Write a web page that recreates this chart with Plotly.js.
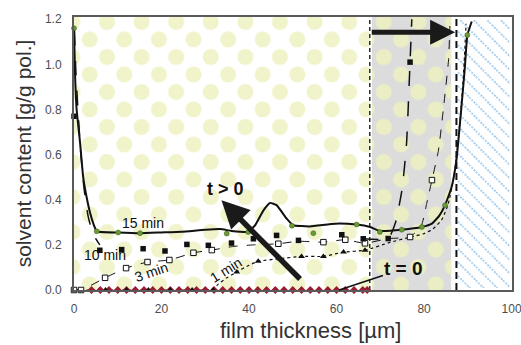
<!DOCTYPE html>
<html><head><meta charset="utf-8">
<script src="https://cdn.plot.ly/plotly-3.0.1.min.js"></script>
<style>html,body{margin:0;padding:0;background:#fff;}#chart{width:521px;height:345px;}</style>
</head><body><div id="chart"></div>
<script>
// ---- data ----
const xTickVals = [0, 20, 40, 60, 80, 100];
const yTickVals = [0.0, 0.2, 0.4, 0.6, 0.8, 1.0, 1.2];

// t = 0 : initial film, no solvent
const t0X = [4,6,8,10,12,14,16,18,20,22,24,26,28,30,32,34,36,38,40,42,44,46,48,50,52,54,56,58,60,62,64,66,67];
const t0Y = [0,0,0,0,0,0,0,0,0,0,0,0,0,0,0,0,0,0,0,0,0,0,0,0,0,0,0,0,0,0,0,0,0];

// 1 min
const oneMinLineX = [0,27,31.8,33,35,37.2,40,42.1,47.1,52,57,61.6,66.5,72,77,80,82,84,85.5,86.8,88,89,89.6];
const oneMinLineY = [0,0,0.003,0.027,0.055,0.08,0.11,0.127,0.139,0.149,0.149,0.168,0.176,0.21,0.235,0.25,0.27,0.31,0.38,0.5,0.7,0.95,1.18];
const oneMinPtsX = [7.2,12,17,22,27,31.8,37.2,42.1,47.1,52,57,61.6,66.5];
const oneMinPtsY = [0,0,0,0,0,0,0.08,0.127,0.139,0.149,0.149,0.168,0.176];

// 3 min
const threeMinLineX = [0,1.6,3.3,7.1,11.9,16.8,21.8,27.3,31.5,36.4,41,46.7,51.3,57,62,66.5,71.8,76.8,79.4,80.6,81.8,83.3,84.4,85.6,85.9];
const threeMinLineY = [0,0.003,0.015,0.054,0.097,0.124,0.133,0.165,0.177,0.193,0.2,0.205,0.216,0.212,0.223,0.207,0.228,0.235,0.287,0.383,0.487,0.62,0.8,1.02,1.17];
const threeMinPtsX = [0,1.6,7.1,11.9,16.8,21.8,27.3,31.5,46.7,57,62,66.5,76.8,81.8];
const threeMinPtsY = [0,0,0.054,0.097,0.124,0.133,0.165,0.177,0.205,0.212,0.223,0.207,0.235,0.487];

// 10 min
const tenMinLineX = [0.1,0.4,0.9,1.5,2.3,3.2,4.3,5.9,null,66.1,71.8,73.5,75,76,76.8,77.2];
const tenMinLineY = [1.15,0.98,0.8,0.62,0.45,0.33,0.25,0.2,null,0.227,0.228,0.3,0.45,0.65,1.01,1.2];
const tenMinPtsX = [0,5.9,10.9,15.8,20.8,25.8,30.7,36,41,46.3,51.3,61.2,66.1,71.8,76.8];
const tenMinPtsY = [0.77,0.176,0.179,0.183,0.173,0.202,0.198,0.208,0.227,0.242,0.22,0.245,0.227,0.228,1.01];

// 15 min
const fifteenLineX = [0,0.25,0.6,1.4,2.1,2.9,3.7,4.5,5.2,10.1,15.1,20,24.6,30,33.4,36,39.8,41.5,43.3,44.8,46.3,48.6,50.1,53.9,59.7,64.6,67.7,69.9,74.9,79.5,81.8,83.5,84.8,86.3,87.4,88.4,89.3,89.9,90.9];
const fifteenLineY = [1.16,0.95,0.8,0.65,0.5,0.41,0.34,0.29,0.26,0.255,0.252,0.255,0.258,0.267,0.27,0.262,0.258,0.29,0.353,0.386,0.376,0.316,0.287,0.282,0.294,0.29,0.279,0.262,0.267,0.279,0.294,0.33,0.376,0.457,0.576,0.78,0.98,1.13,1.19];
const fifteenPtsX = [0,5.2,10.1,15.1,34.9,39.8,49.8,54.7,64.6,69.9,74.9,79.5,84.8,89.9];
const fifteenPtsY = [1.16,0.26,0.255,0.252,0.25,0.257,0.285,0.252,0.29,0.257,0.267,0.279,0.376,1.13];

// film boundaries: initial (t = 0) and final
const boundaryX = [67.6, 87.4];
const grayZone = [68.1, 86.2];
const hatchZone = [87.6, 99.5];

// ---- layout geometry ----
const W = 521, H = 345, M = {l: 74, r: 9, t: 17, b: 55};
const XR = [0, 100.1], YR = [0, 1.21];
const pw = W - M.l - M.r, ph = H - M.t - M.b;
function px(x) { return (x - XR[0]) / (XR[1] - XR[0]) * pw; }

// background decoration (dotted film, grey zone, hatched solvent)
const dotW = '#f1f3ca', dotG = '#ebedc4';
const svg =
`<svg xmlns='http://www.w3.org/2000/svg' width='${pw}' height='${ph}' viewBox='0 0 ${pw} ${ph}'>
<defs>
<pattern id='dw' patternUnits='userSpaceOnUse' x='-10.25' y='-3.75' width='34.6' height='35'>
<circle cx='8.65' cy='8.75' r='8' fill='${dotW}'/><circle cx='25.95' cy='26.25' r='8' fill='${dotW}'/></pattern>
<pattern id='dg' patternUnits='userSpaceOnUse' x='-10.25' y='-3.75' width='34.6' height='35'>
<circle cx='8.65' cy='8.75' r='8' fill='${dotG}'/><circle cx='25.95' cy='26.25' r='8' fill='${dotG}'/></pattern>
<pattern id='hh' patternUnits='userSpaceOnUse' width='9.6' height='9.6' patternTransform='rotate(-45)'>
<line x1='2' y1='0' x2='2' y2='9.6' stroke='#6aaee6' stroke-width='1.2' stroke-dasharray='1.8,1.6'/></pattern>
</defs>
<rect x='0' y='0' width='${px(boundaryX[0]).toFixed(1)}' height='${ph}' fill='url(#dw)'/>
<rect x='${px(grayZone[0]).toFixed(1)}' y='0' width='${(px(grayZone[1]) - px(grayZone[0])).toFixed(1)}' height='${ph}' fill='#dcdcdc'/>
<rect x='${px(grayZone[0]).toFixed(1)}' y='0' width='${(px(grayZone[1]) - px(grayZone[0])).toFixed(1)}' height='${ph}' fill='url(#dg)'/>
<rect x='${px(hatchZone[0]).toFixed(1)}' y='3' width='${(px(hatchZone[1]) - px(hatchZone[0])).toFixed(1)}' height='${ph - 5}' fill='url(#hh)'/>
</svg>`;
const bgSrc = 'data:image/svg+xml;charset=utf-8,' + encodeURIComponent(svg);

const FONT = 'Liberation Sans, Arial, sans-serif';
const ink = '#111111';

const traces = [
  {x: oneMinLineX, y: oneMinLineY, mode: 'lines', name: '1 min',
   line: {color: ink, width: 1.2, dash: 'dot', shape: 'spline', smoothing: 0.5}},
  {x: threeMinLineX, y: threeMinLineY, mode: 'lines', name: '3 min',
   line: {color: ink, width: 1, dash: 'dash', shape: 'spline', smoothing: 0.5}},
  {x: tenMinLineX, y: tenMinLineY, mode: 'lines', name: '10 min',
   line: {color: ink, width: 1.5, dash: 'longdash', shape: 'spline', smoothing: 0.5}},
  {x: fifteenLineX, y: fifteenLineY, mode: 'lines', name: '15 min',
   line: {color: ink, width: 2, shape: 'spline', smoothing: 0.4}},
  {x: t0X, y: t0Y, mode: 'markers', name: 't = 0', cliponaxis: false,
   marker: {symbol: 'diamond', size: 6, color: '#9b1c31'}},
  {x: oneMinPtsX, y: oneMinPtsY, mode: 'markers', name: '1 min data', cliponaxis: false,
   marker: {symbol: 'triangle-up', size: 6, color: ink}},
  {x: threeMinPtsX, y: threeMinPtsY, mode: 'markers', name: '3 min data', cliponaxis: false,
   marker: {symbol: 'square', size: 5.5, color: '#ffffff', line: {color: ink, width: 1}}},
  {x: tenMinPtsX, y: tenMinPtsY, mode: 'markers', name: '10 min data', cliponaxis: false,
   marker: {symbol: 'square', size: 5.5, color: ink}},
  {x: fifteenPtsX, y: fifteenPtsY, mode: 'markers', name: '15 min data', cliponaxis: false,
   marker: {symbol: 'circle', size: 5, color: '#6a9a35', line: {color: '#3d5e1a', width: 0.5}}}
];

const lbl = (text, x, y, size, angle, bold) => ({
  text: bold ? '<b>' + text + '</b>' : text, x: x, y: y, xref: 'x', yref: 'y',
  showarrow: false, textangle: angle || 0,
  font: {family: FONT, size: size, color: ink}
});

const layout = {
  width: W, height: H, margin: M,
  paper_bgcolor: '#ffffff', plot_bgcolor: '#ffffff',
  showlegend: false,
  xaxis: {
    range: XR, tickvals: xTickVals, ticks: '', ticklabelstandoff: 7, ticklabeloverflow: 'allow',
    showgrid: false, zeroline: false, showline: true, mirror: true,
    linecolor: '#5a5a5a', linewidth: 2,
    tickfont: {family: FONT, size: 12, color: '#4d4d4d'}
  },
  yaxis: {
    range: YR, tickvals: yTickVals, tickformat: '.1f', ticks: '', ticklabelstandoff: 8,
    showgrid: false, zeroline: false, showline: true, mirror: true,
    linecolor: '#5a5a5a', linewidth: 2,
    tickfont: {family: FONT, size: 12, color: '#4d4d4d'},
    title: {text: 'solvent content [g/g pol.]', standoff: 8,
            font: {family: FONT, size: 21, color: '#333333'}}
  },
  images: [{source: bgSrc, xref: 'paper', yref: 'paper', x: 0, y: 1, sizex: 1, sizey: 1,
            xanchor: 'left', yanchor: 'top', sizing: 'stretch', layer: 'below'}],
  shapes: [
    {type: 'line', xref: 'x', yref: 'y', x0: boundaryX[0], x1: boundaryX[0], y0: 0, y1: YR[1],
     line: {color: ink, width: 1.3, dash: '4px,3px'}, layer: 'below'},
    {type: 'line', xref: 'x', yref: 'y', x0: boundaryX[1], x1: boundaryX[1], y0: 0, y1: YR[1],
     line: {color: ink, width: 2, dash: '7px,4px'}, layer: 'below'}
  ],
  annotations: [
    {text: 'film thickness [µm]', xref: 'paper', yref: 'paper', x: 0.541, y: 0, yshift: -40,
     xanchor: 'center', yanchor: 'middle', showarrow: false,
     font: {family: FONT, size: 22, color: '#333333'}},
    lbl('15 min', 15.7, 0.296, 14, 0, false),
    lbl('10 min', 7.1, 0.153, 14, 0, false),
    lbl('3 min', 17.6, 0.082, 14, -19, false),
    lbl('1 min', 34.7, 0.087, 14, -32, false),
    lbl('t &gt; 0', 34.7, 0.446, 18, 0, true),
    // big arrow: movement of the film surface
    {x: 87.1, y: 1.142, ax: 67.7, ay: 1.142, xref: 'x', yref: 'y', axref: 'x', ayref: 'y',
     text: '', showarrow: true, arrowhead: 2, arrowsize: 1, arrowwidth: 5, arrowcolor: '#1a1a1a'},
    // big arrow: t > 0
    {x: 33.7, y: 0.398, ax: 52.0, ay: 0.042, xref: 'x', yref: 'y', axref: 'x', ayref: 'y',
     text: '', showarrow: true, arrowhead: 2, arrowsize: 1, arrowwidth: 5.5, arrowcolor: '#1a1a1a'},
    // t = 0 label with pointer
    {x: 60.6, y: 0, ax: 75.4, ay: 0.095, xref: 'x', yref: 'y', axref: 'x', ayref: 'y',
     text: '<b>t = 0</b>', showarrow: true, arrowhead: 0, arrowwidth: 1.5, arrowcolor: ink,
     font: {family: FONT, size: 19, color: ink}}
  ]
};

Plotly.newPlot('chart', traces, layout, {displayModeBar: false, staticPlot: true});
</script>
</body></html>
